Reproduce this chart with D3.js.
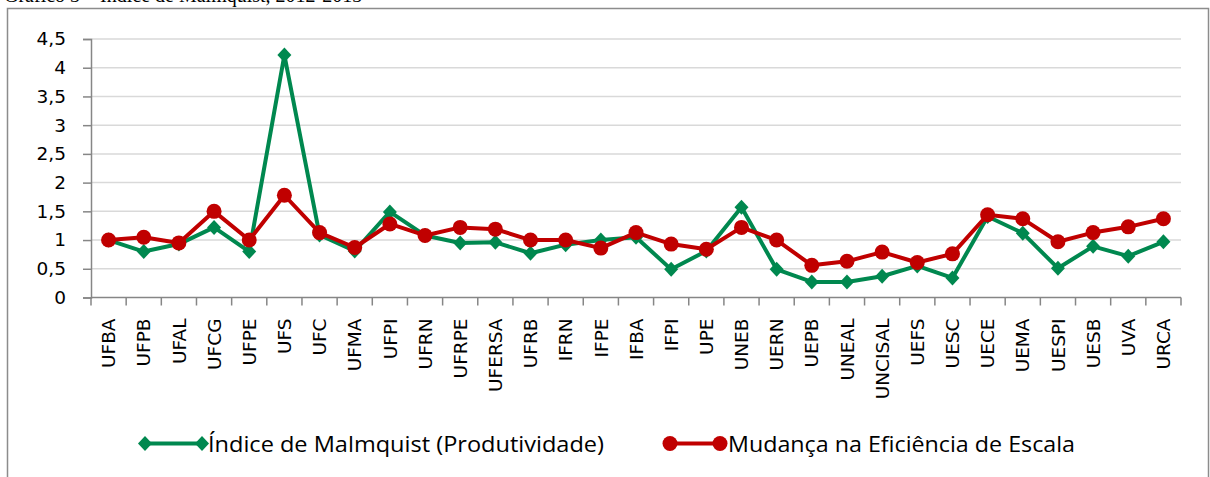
<!DOCTYPE html>
<html>
<head>
<meta charset="utf-8">
<script src="https://cdn.jsdelivr.net/npm/d3@7"></script>
<style>
  body { margin: 0; background: #fff; }
  text { font-family: "DejaVu Sans", sans-serif; }
</style>
</head>
<body>
<div id="chart"></div>
<script>
const width = 1210, height = 477;

// data
const universidades = ["UFBA","UFPB","UFAL","UFCG","UFPE","UFS","UFC","UFMA","UFPI","UFRN","UFRPE","UFERSA","UFRB","IFRN","IFPE","IFBA","IFPI","UPE","UNEB","UERN","UEPB","UNEAL","UNCISAL","UEFS","UESC","UECE","UEMA","UESPI","UESB","UVA","URCA"];
const malmquist = [1.0,0.80,0.93,1.22,0.80,4.22,1.09,0.81,1.49,1.08,0.95,0.96,0.77,0.92,1.0,1.05,0.49,0.81,1.57,0.49,0.27,0.27,0.37,0.55,0.34,1.41,1.12,0.51,0.89,0.72,0.97];
const escala = [1.0,1.05,0.95,1.5,1.0,1.78,1.13,0.87,1.28,1.08,1.22,1.19,1.0,1.0,0.86,1.13,0.93,0.84,1.22,1.0,0.56,0.63,0.79,0.61,0.76,1.44,1.37,0.97,1.13,1.23,1.37];
const yTicks = [0,0.5,1,1.5,2,2.5,3,3.5,4,4.5];
const seriesNames = ["Índice de Malmquist (Produtividade)", "Mudança na Eficiência de Escala"];

const verde = "#00884f", vermelho = "#c00000";

const svg = d3.select("#chart").append("svg")
  .attr("width", width).attr("height", height);

// titulo (cortado no topo, como no original)
svg.append("text")
  .attr("x", 4).attr("y", 2)
  .style("font-family", "Liberation Serif")
  .style("font-size", "20px")
  .text("Gráfico 3 – Índice de Malmquist, 2012-2013");

// moldura
svg.append("rect")
  .attr("x", 7.5).attr("y", 8.5)
  .attr("width", 1201).attr("height", 480)
  .attr("fill", "#fff")
  .attr("stroke", "#8c8c8c")
  .attr("stroke-width", 1.5);

const x = d3.scaleBand().domain(universidades).range([91, 1181]);
const y = d3.scaleLinear().domain([0, 4.5]).range([297.5, 39]);

// grid
svg.append("g").selectAll("line")
  .data(yTicks.slice(1))
  .join("line")
  .attr("x1", 91).attr("x2", 1181)
  .attr("y1", d => y(d)).attr("y2", d => y(d))
  .attr("stroke", "#d9d9d9").attr("stroke-width", 1.5);

// eixo y
const yAxis = svg.append("g")
  .attr("transform", "translate(91,0)")
  .call(d3.axisLeft(y).tickValues(yTicks).tickSize(8).tickPadding(17)
    .tickFormat(d => String(d).replace(".", ",")));
yAxis.select(".domain").attr("stroke", "#868686").attr("stroke-width", 1.5);
yAxis.selectAll(".tick line").attr("stroke", "#868686").attr("stroke-width", 1.5);
yAxis.selectAll("text").style("font-size", "18.5px").attr("fill", "#000")
  .style("font-family", "DejaVu Sans");

// eixo x
const xg = svg.append("g").attr("transform", "translate(0,297.5)");
xg.append("line").attr("x1", 91).attr("x2", 1181)
  .attr("stroke", "#868686").attr("stroke-width", 1.5);
const bounds = universidades.map(d => x(d)).concat([x.range()[1]]);
xg.selectAll(".tk").data(bounds).join("line")
  .attr("class", "tk")
  .attr("x1", d => d).attr("x2", d => d)
  .attr("y1", 0).attr("y2", 8)
  .attr("stroke", "#868686").attr("stroke-width", 1.5);
xg.selectAll(".lbl").data(universidades).join("text")
  .attr("class", "lbl")
  .attr("transform", d => `translate(${x(d) + x.bandwidth() / 2},21) rotate(-90)`)
  .attr("text-anchor", "end")
  .attr("dy", "0.36em")
  .style("font-size", "18.5px")
  .text(d => d);

const cx = d => x(d) + x.bandwidth() / 2;
const line = d3.line().x(d => cx(d[0])).y(d => y(d[1]));

const diamond = "M0,-7.5L7,0L0,7.5L-7,0Z";

// serie verde
const gData = universidades.map((u, i) => [u, malmquist[i]]);
svg.append("path").datum(gData)
  .attr("d", line).attr("fill", "none")
  .attr("stroke", verde).attr("stroke-width", 4).attr("stroke-linejoin", "round");
svg.append("g").selectAll("path").data(gData).join("path")
  .attr("d", diamond)
  .attr("transform", d => `translate(${cx(d[0])},${y(d[1])})`)
  .attr("fill", verde);

// serie vermelha
const rData = universidades.map((u, i) => [u, escala[i]]);
svg.append("path").datum(rData)
  .attr("d", line).attr("fill", "none")
  .attr("stroke", vermelho).attr("stroke-width", 4).attr("stroke-linejoin", "round");
svg.append("g").selectAll("circle").data(rData).join("circle")
  .attr("cx", d => cx(d[0])).attr("cy", d => y(d[1]))
  .attr("r", 7.5).attr("fill", vermelho);

// legenda
const legY = 443.5;
const leg = [
  { x1: 145, x2: 202, tx: 208, tl: 396, cor: verde, nome: seriesNames[0], tipo: "d" },
  { x1: 670, x2: 720, tx: 728, tl: 347, cor: vermelho, nome: seriesNames[1], tipo: "c" }
];
leg.forEach(l => {
  svg.append("line").attr("x1", l.x1).attr("x2", l.x2)
    .attr("y1", legY).attr("y2", legY)
    .attr("stroke", l.cor).attr("stroke-width", 4);
  [l.x1, l.x2].forEach(px => {
    if (l.tipo === "d") {
      svg.append("path").attr("d", diamond)
        .attr("transform", `translate(${px},${legY})`).attr("fill", l.cor);
    } else {
      svg.append("circle").attr("cx", px).attr("cy", legY).attr("r", 7.5).attr("fill", l.cor);
    }
  });
  svg.append("text").attr("x", l.tx).attr("y", legY + 8)
    .style("font-family", "Open Sans")
    .style("font-size", "21px")
    .attr("textLength", l.tl).attr("lengthAdjust", "spacingAndGlyphs")
    .text(l.nome);
});
</script>
</body>
</html>
